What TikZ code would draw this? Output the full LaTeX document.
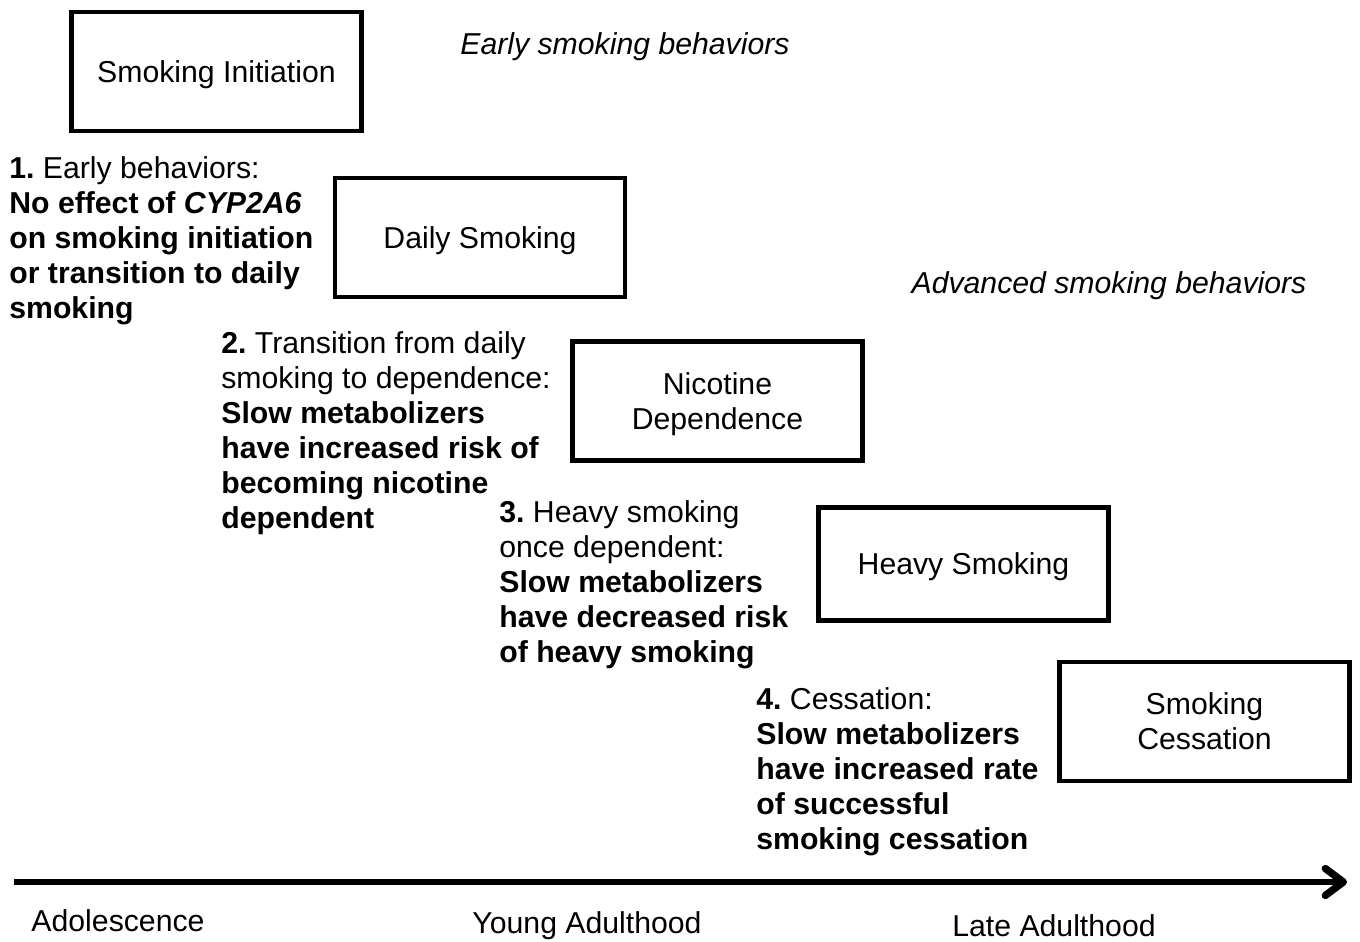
\documentclass[tikz,border=0pt]{standalone}
\usepackage{fontspec}
\setmainfont{Liberation Sans}
\usetikzlibrary{arrows.meta,positioning}
\frenchspacing

\begin{document}
\begin{tikzpicture}[x=0.02cm, y=-0.02cm,
    box/.style={rectangle, draw=black, line width=2.8pt, minimum width=5.8cm,
                minimum height=2.38cm, align=center, inner sep=0pt, text depth=0pt,
                font=\fontsize{17.2}{19.9}\selectfont},
    note/.style={anchor=north west, align=left, inner sep=0pt,
                 font=\fontsize{17.2}{19.9}\selectfont},
    phase/.style={font=\fontsize{17.2}{19.9}\selectfont\itshape, inner sep=0pt},
    age/.style={font=\fontsize{17.2}{19.9}\selectfont, inner sep=0pt},
    arr/.style={-{Straight Barb[length=3.6mm, width=5.4mm, round, line width=4.2pt]}, line width=2.9pt}
]
    \useasboundingbox (0,0) rectangle (1360,942);

    % stages
    \node[box] (init) at (216.5,71.5) {Smoking Initiation};
    \node[box] (daily) at (480,237.5) {Daily Smoking};
    \node[box] (depend) at (717.5,401) {Nicotine\\Dependence};
    \node[box, minimum height=2.26cm] (heavy) at (963.5,564) {Heavy Smoking};
    \node[box] (quit) at (1204.5,721.5) {Smoking\\Cessation};

    % phases
    \node[phase] (early) at (625,47) {Early smoking behaviors};
    \node[phase] (advanced) at (1109,286) {Advanced smoking behaviors};

    % findings
    \node[note] (note1) at (9,156) {\textbf{1.} Early behaviors:\\
        \textbf{No effect of \textit{CYP2A6}}\\
        \textbf{on smoking initiation}\\
        \textbf{or transition to daily}\\
        \textbf{smoking}};
    \node[note] (note2) at (221,331) {\textbf{2.} Transition from daily\\
        smoking to dependence:\\
        \textbf{Slow metabolizers}\\
        \textbf{have increased risk of}\\
        \textbf{becoming nicotine}\\
        \textbf{dependent}};
    \node[note] (note3) at (499,500) {\textbf{3.} Heavy smoking\\
        once dependent:\\
        \textbf{Slow metabolizers}\\
        \textbf{have decreased risk}\\
        \textbf{of heavy smoking}};
    \node[note] (note4) at (756,687) {\textbf{4.} Cessation:\\
        \textbf{Slow metabolizers}\\
        \textbf{have increased rate}\\
        \textbf{of successful}\\
        \textbf{smoking cessation}};

    % time axis
    \coordinate (tstart) at (14,882);
    \coordinate (tend) at (1347,882);
    \draw[arr] (tstart) -- (tend);
    \node[age] (teen) at (118,921) {Adolescence};
    \node[age] (young) at (587,926) {Young Adulthood};
    \node[age] (late) at (1054,926) {Late Adulthood};
\end{tikzpicture}
\end{document}
